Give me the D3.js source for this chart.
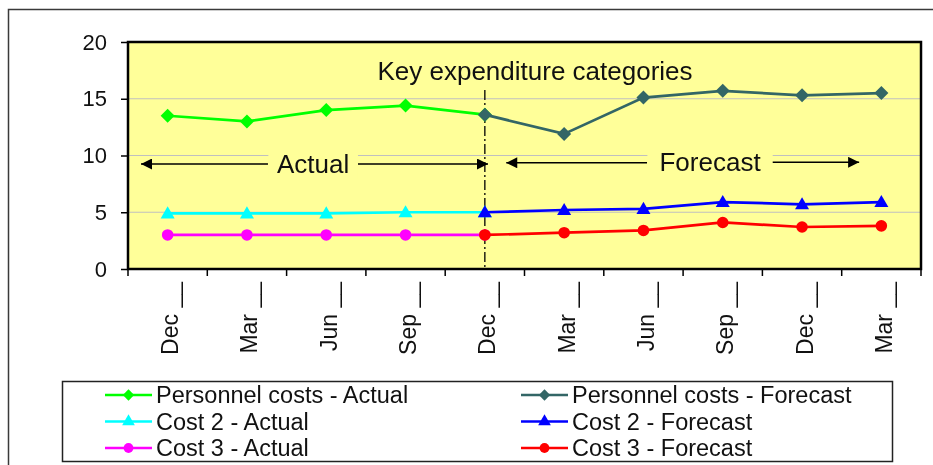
<!DOCTYPE html>
<html>
<head>
<meta charset="utf-8">
<script src="https://cdn.jsdelivr.net/npm/d3@7"></script>
<style>
  html, body { margin: 0; padding: 0; background: #ffffff; }
  svg { display: block; font-family: "Liberation Sans", Arial, sans-serif; will-change: transform; }
</style>
</head>
<body>
<svg id="chart" width="933" height="465"></svg>
<script>
// Quarter labels along the category axis
const categories = ["Dec", "Mar", "Jun", "Sep", "Dec", "Mar", "Jun", "Sep", "Dec", "Mar"];
const categoryLabels = categories.map(c => c + " __");

// Series values (null where a series has no point)
const personnelActual   = [13.5, 13.0, 14.0, 14.4, 13.6, null, null, null, null, null];
const personnelForecast = [null, null, null, null, 13.6, 11.9, 15.1, 15.7, 15.3, 15.5];
const cost2Actual       = [4.9, 4.9, 4.9, 5.0, 5.0, null, null, null, null, null];
const cost2Forecast     = [null, null, null, null, 5.0, 5.2, 5.3, 5.9, 5.7, 5.9];
const cost3Actual       = [3.0, 3.0, 3.0, 3.0, 3.0, null, null, null, null, null];
const cost3Forecast     = [null, null, null, null, 3.0, 3.2, 3.4, 4.1, 3.7, 3.8];

const yTicks = [0, 5, 10, 15, 20];

const seriesList = [
  { name: "Personnel costs - Actual",   values: personnelActual,   color: "#00ff00", marker: "diamond" },
  { name: "Cost 2 - Actual",            values: cost2Actual,       color: "#00ffff", marker: "triangle" },
  { name: "Cost 3 - Actual",            values: cost3Actual,       color: "#ff00ff", marker: "circle" },
  { name: "Personnel costs - Forecast", values: personnelForecast, color: "#336666", marker: "diamond" },
  { name: "Cost 2 - Forecast",          values: cost2Forecast,     color: "#0000ff", marker: "triangle" },
  { name: "Cost 3 - Forecast",          values: cost3Forecast,     color: "#ff0000", marker: "circle" }
];

const svg = d3.select("#chart");
const plot = { left: 128, top: 42, right: 921, bottom: 269 };

const x = d3.scaleBand().domain(d3.range(categories.length)).range([plot.left, plot.right]).padding(0);
const y = d3.scaleLinear().domain([0, 20]).range([plot.bottom, plot.top]);
// continuous position along the category axis (0 = left edge, 10 = right edge)
const xc = d3.scaleLinear().domain([0, categories.length]).range([plot.left, plot.right]);

// outer frame
svg.append("rect")
  .attr("x", 8.5).attr("y", 9.5).attr("width", 960).attr("height", 480)
  .attr("fill", "none").attr("stroke", "#3a3a3a").attr("stroke-width", 1.5);

// plot background
svg.append("rect")
  .attr("x", plot.left).attr("y", plot.top)
  .attr("width", plot.right - plot.left).attr("height", plot.bottom - plot.top)
  .attr("fill", "#ffff99");

// gridlines
svg.append("g").selectAll("line")
  .data(yTicks.filter(t => t > 0 && t < 20))
  .join("line")
  .attr("x1", plot.left).attr("x2", plot.right)
  .attr("y1", d => y(d)).attr("y2", d => y(d))
  .attr("stroke", "#c0c0c0").attr("stroke-width", 1.2);

// y axis
const yAxis = svg.append("g")
  .attr("transform", `translate(${plot.left},0)`)
  .call(d3.axisLeft(y).tickValues(yTicks).tickSize(7).tickPadding(14));
yAxis.select(".domain").remove();
yAxis.selectAll(".tick line").attr("stroke", "#000").attr("stroke-width", 1.5);
yAxis.selectAll(".tick text")
  .attr("font-size", 22).attr("fill", "#111")
  .attr("font-family", "Liberation Sans, Arial, sans-serif");

// x axis ticks at category boundaries
svg.append("g").selectAll("line")
  .data(d3.range(categories.length + 1))
  .join("line")
  .attr("x1", d => xc(d)).attr("x2", d => xc(d))
  .attr("y1", plot.bottom).attr("y2", plot.bottom + 7)
  .attr("stroke", "#000").attr("stroke-width", 1.5);

// rotated category labels
svg.append("g").selectAll("text")
  .data(categoryLabels)
  .join("text")
  .attr("transform", (d, i) => `translate(${x(i) + x.bandwidth() / 2 + 10.5},282) rotate(-90)`)
  .attr("text-anchor", "end")
  .attr("font-size", 23)
  .attr("fill", "#111")
  .text(d => d);

// text boxes that sit over the gridline
const labelBoxes = [
  { text: "Actual",   x0: 1.77, x1: 2.9,  baseline: 173 },
  { text: "Forecast", x0: 6.55, x1: 8.13, baseline: 171 }
];
svg.append("g").selectAll("rect")
  .data(labelBoxes)
  .join("rect")
  .attr("x", d => xc(d.x0)).attr("width", d => xc(d.x1) - xc(d.x0))
  .attr("y", d => d.baseline - 24).attr("height", 30)
  .attr("fill", "#ffff99");

// dash-dot divider between actual and forecast
svg.append("line")
  .attr("x1", x(4) + x.bandwidth() / 2).attr("x2", x(4) + x.bandwidth() / 2)
  .attr("y1", 90).attr("y2", plot.bottom)
  .attr("stroke", "#000").attr("stroke-width", 1.3)
  .attr("stroke-dasharray", "10,3,2,3");

// arrows
const defs = svg.append("defs");
defs.append("marker")
  .attr("id", "arrowhead")
  .attr("viewBox", "0 0 10 10").attr("refX", 10).attr("refY", 5)
  .attr("markerWidth", 14).attr("markerHeight", 11)
  .attr("markerUnits", "userSpaceOnUse")
  .attr("orient", "auto")
  .append("path").attr("d", "M0,0 L10,5 L0,10 Z").attr("fill", "#000");

const arrows = [
  { from: 1.765, to: 0.164, v: 9.25 },
  { from: 2.9,   to: 4.54,  v: 9.25 },
  { from: 6.545, to: 4.77,  v: 9.36 },
  { from: 8.13,  to: 9.22,  v: 9.4 }
];
svg.append("g").selectAll("line")
  .data(arrows)
  .join("line")
  .attr("x1", d => xc(d.from)).attr("x2", d => xc(d.to))
  .attr("y1", d => y(d.v)).attr("y2", d => y(d.v))
  .attr("stroke", "#000").attr("stroke-width", 1.6)
  .attr("marker-end", "url(#arrowhead)");

svg.append("g").selectAll("text")
  .data(labelBoxes)
  .join("text")
  .attr("x", d => (xc(d.x0) + xc(d.x1)) / 2)
  .attr("y", d => d.baseline)
  .attr("text-anchor", "middle")
  .attr("font-size", 26)
  .attr("fill", "#111")
  .text(d => d.text);

// chart title inside the plot
svg.append("text")
  .attr("x", 535).attr("y", 80)
  .attr("text-anchor", "middle")
  .attr("font-size", 26)
  .attr("fill", "#111")
  .text("Key expenditure categories");

// square diamond (rotated square) used for the personnel series
const squareDiamond = {
  draw(context, size) {
    const r = Math.sqrt(size / 2);
    context.moveTo(0, -r);
    context.lineTo(r, 0);
    context.lineTo(0, r);
    context.lineTo(-r, 0);
    context.closePath();
  }
};

// marker shapes
const symbolFor = {
  diamond: d3.symbol().type(squareDiamond).size(98),
  triangle: d3.symbol().type(d3.symbolTriangle).size(85),
  circle: d3.symbol().type(d3.symbolCircle).size(105)
};

const line = d3.line()
  .defined(d => d.v != null)
  .x(d => x(d.i) + x.bandwidth() / 2)
  .y(d => y(d.v));

seriesList.forEach(s => {
  const pts = s.values.map((v, i) => ({ i, v }));
  const g = svg.append("g");
  g.append("path")
    .datum(pts)
    .attr("d", line)
    .attr("fill", "none")
    .attr("stroke", s.color)
    .attr("stroke-width", 2.7);
  g.selectAll("path.pt")
    .data(pts.filter(d => d.v != null))
    .join("path")
    .attr("class", "pt")
    .attr("transform", d => `translate(${x(d.i) + x.bandwidth() / 2},${y(d.v) + (s.marker === "triangle" ? 1 : 0)})`)
    .attr("d", symbolFor[s.marker]())
    .attr("fill", s.color);
});

// plot frame
svg.append("rect")
  .attr("x", plot.left).attr("y", plot.top)
  .attr("width", plot.right - plot.left).attr("height", plot.bottom - plot.top)
  .attr("fill", "none").attr("stroke", "#000").attr("stroke-width", 2.5);

// legend
svg.append("rect")
  .attr("x", 62.5).attr("y", 381.5).attr("width", 830).attr("height", 80)
  .attr("fill", "#fff").attr("stroke", "#222").attr("stroke-width", 1.5);

const legendCols = [105, 521];
const legendRows = [395, 421.5, 448];
const legendSymbols = {
  diamond: d3.symbol().type(squareDiamond).size(64),
  triangle: d3.symbol().type(d3.symbolTriangle).size(70),
  circle: d3.symbol().type(d3.symbolCircle).size(75)
};
const leg = svg.append("g").selectAll("g")
  .data(seriesList)
  .join("g")
  .attr("transform", (d, i) => `translate(${legendCols[Math.floor(i / 3)]},${legendRows[i % 3]})`);
leg.append("line")
  .attr("x1", 0).attr("x2", 47).attr("y1", 0).attr("y2", 0)
  .attr("stroke", d => d.color).attr("stroke-width", 2.7);
leg.append("path")
  .attr("transform", "translate(23.5,0)")
  .attr("d", d => legendSymbols[d.marker]())
  .attr("fill", d => d.color);
leg.append("text")
  .attr("x", 51).attr("y", 8)
  .attr("font-size", 23.5)
  .attr("fill", "#111")
  .text(d => d.name);
</script>
</body>
</html>
